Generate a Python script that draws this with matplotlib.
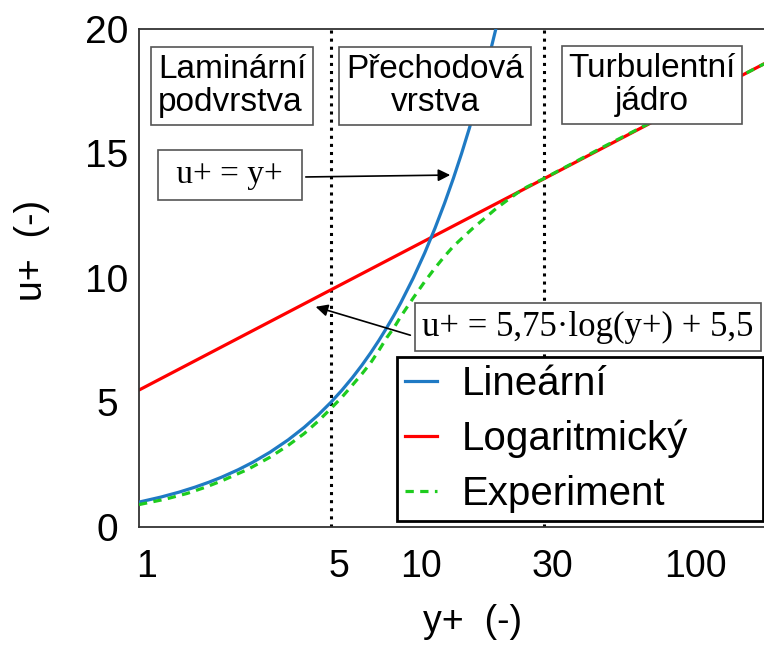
import numpy as np
from matplotlib import pyplot as plt
from matplotlib import transforms

plt.rcParams['font.family'] = ['Liberation Sans', 'DejaVu Sans']

# values
yp_lin = [1, 1.2, 1.4, 1.6, 1.8, 2, 2.3, 2.6, 3, 3.5, 4, 4.5, 5, 5.5, 6, 6.5, 7, 7.5, 8, 8.5,
          9, 10, 11, 12, 13, 14, 15, 16, 17, 18, 19, 20, 21]
u_lin = [1, 1.2, 1.4, 1.6, 1.8, 2, 2.3, 2.6, 3, 3.5, 4, 4.5, 5, 5.5, 6, 6.5, 7, 7.5, 8, 8.5,
         9, 10, 11, 12, 13, 14, 15, 16, 17, 18, 19, 20, 21]

yp_log = [1, 5, 10, 30, 100, 190]
u_log = [5.5, 9.52, 11.25, 13.99, 17.0, 18.6]

yp_exp = [1, 1.25, 1.5, 1.75, 2, 2.5, 3, 3.5, 4, 4.5, 5, 5.5, 6, 6.5, 7, 7.5, 8, 8.5, 9, 10,
          11, 12, 13, 14, 15, 16.5, 18, 20, 22, 24, 26, 30, 50, 100, 190]
u_exp = [0.9, 1.12, 1.35, 1.6, 1.85, 2.32, 2.8, 3.28, 3.75, 4.25, 4.75, 5.22, 5.7, 6.15, 6.6,
         7.1, 7.6, 8.0, 8.45, 9.2, 9.85, 10.4, 10.87, 11.27, 11.58, 12.0, 12.35, 12.78, 13.12,
         13.42, 13.66, 14.0, 15.3, 17.0, 18.6]

boundaries = [5, 30]
xticks = [1, 5, 10, 30, 100]
yticks = [0, 5, 10, 15, 20]
labels = ["Lineární", "Logaritmický", "Experiment"]

W, H = 764, 649
fig = plt.figure(figsize=(W / 100, H / 100), dpi=100)
ax = fig.add_axes([139 / W, 1 - 527 / H, (W - 139) / W, (527 - 29) / H])

def fx(px):
    return px / W

def fy(py):
    return 1 - py / H

for b in boundaries:
    ax.axvline(b, color='black', linestyle=':', lw=2.2, zorder=1)

l_lin, = ax.plot(yp_lin, u_lin, color='#1f7ac4', lw=2.3, zorder=3)
l_log, = ax.plot(yp_log, u_log, color='#ff0000', lw=2.3, zorder=2)
l_exp, = ax.plot(yp_exp, u_exp, color='#1ecc1e', lw=2.3, ls=(0, (2.6, 2.0)), zorder=4)

ax.set_xscale('log')
ax.set_xlim(1, 190)
ax.set_ylim(0, 20)
ax.set_xticks(xticks)
ax.set_xticklabels([str(t) for t in xticks])
ax.xaxis.set_minor_locator(plt.NullLocator())
ax.set_yticks(yticks)
ax.tick_params(axis='x', length=0, pad=16, labelsize=27)
ax.tick_params(axis='y', length=0, pad=23, labelsize=28)
shift = transforms.ScaledTranslation(8 / 100, 0, fig.dpi_scale_trans)
for lab in ax.get_xticklabels():
    lab.set_transform(lab.get_transform() + shift)
for lab in ax.get_yticklabels():
    lab.set_horizontalalignment('center')
for s in ['left', 'bottom', 'top']:
    ax.spines[s].set_color('#333333')
    ax.spines[s].set_linewidth(1.3)
ax.spines['right'].set_visible(False)

fig.text(fx(473), fy(622), "y+  (-)", fontsize=27, ha='center', va='center')
fig.text(fx(32), fy(250), "u+  (-)", fontsize=27, ha='center', va='center', rotation=90)

box = dict(boxstyle='square,pad=0.2', facecolor='white', edgecolor='#555555', lw=1.2)
fig.text(fx(232), fy(86), "Laminární\npodvrstva", fontsize=24, ha='center', va='center',
         multialignment='left', linespacing=1.1, bbox=box, zorder=5)
fig.text(fx(435), fy(86), "Přechodová\nvrstva", fontsize=24, ha='center', va='center',
         multialignment='center', linespacing=1.1, bbox=box, zorder=5)
fig.text(fx(652), fy(85), "Turbulentní\njádro", fontsize=24, ha='center', va='center',
         multialignment='center', linespacing=1.1, bbox=box, zorder=5)

sbox = dict(boxstyle='square,pad=0.3', facecolor='white', edgecolor='#555555', lw=1.2)
fig.text(fx(230), fy(175), " u+ = y+ ", fontsize=24, family='Liberation Serif',
         ha='center', va='center', bbox=sbox, zorder=5)
fig.text(fx(588), fy(327), "u+ = 5,75·log(y+) + 5,5", fontsize=25, family='Liberation Serif',
         ha='center', va='center', bbox=dict(boxstyle='square,pad=0.22', facecolor='white',
                                             edgecolor='#555555', lw=1.2), zorder=5)

arrow = dict(arrowstyle='-|>', color='black', lw=1.2, mutation_scale=18)
ax.annotate("", xy=(fx(453), fy(175)), xycoords='figure fraction',
            xytext=(fx(303), fy(177)), textcoords='figure fraction', arrowprops=arrow)
ax.annotate("", xy=(fx(313), fy(306)), xycoords='figure fraction',
            xytext=(fx(413), fy(336)), textcoords='figure fraction', arrowprops=arrow)

leg = ax.legend([l_lin, l_log, l_exp], labels, loc='upper left',
                bbox_to_anchor=(fx(397), fy(522), fx(763) - fx(397), fy(357) - fy(522)),
                bbox_transform=fig.transFigure, mode='expand', borderaxespad=0,
                fontsize=29, handlelength=0.8, handletextpad=0.6, borderpad=0.2,
                labelspacing=0.42, fancybox=False, framealpha=1, edgecolor='black')
leg.get_frame().set_linewidth(2)
leg.set_zorder(6)

plt.savefig('out.png', dpi=100)
